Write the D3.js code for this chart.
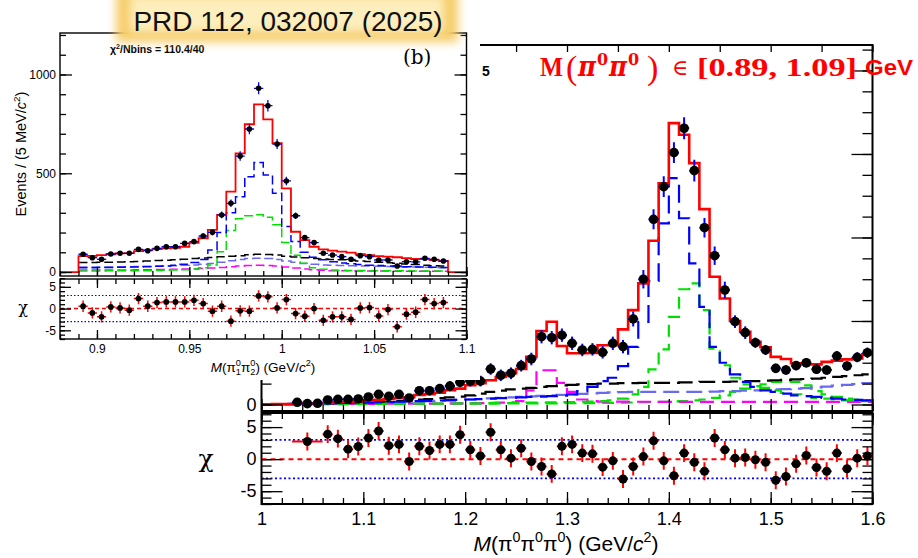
<!DOCTYPE html>
<html>
<head>
<meta charset="utf-8">
<script src="https://cdn.jsdelivr.net/npm/d3@7"></script>
<style>
  html, body { margin: 0; padding: 0; background: #fff; }
  svg { display: block; }
</style>
</head>
<body>
<svg id="chart" width="918" height="558"></svg>
<script>
// ===================== data =====================
// Main fit: M(pi0 pi0 pi0), 10 MeV bins from 1.00 to 1.60 GeV/c^2
const mainBinStart = 1.0;
const mainBinWidth = 0.01;
const mainTotal = [0.3,0.4,0.6,0.8,1.1,1.5,2.0,2.6,3.2,3.9,
  4.7,5.6,6.6,7.6,8.7,11.4,12.4,14.0,17.0,19.0,
  23.0,25.5,29.0,33.0,37.5,42.5,57,88,99,70,
  61.3,61.3,61.7,71,71,90,113,145,196,265,
  337,323,289,234,153,127,100,87,75,68.5,
  57,54.5,49.3,48,48,51,52.5,54,55,60];
const mainBlue = [0.5,0.6,0.7,0.8,1.0,1.2,1.4,1.6,1.8,2.0,
  2.3,2.6,3.0,3.3,3.7,4.0,4.4,4.8,5.2,5.6,
  6.0,6.5,7.0,7.5,8.0,8.5,9.0,9.5,10,10.5,
  12,16,21,28,32,46,69,99,148,217,
  271,223,169,117,69,50,36,27,21,17,
  15,13,11,10,9,8,7,6,5.5,5];
const mainGreen = [0.2,0.2,0.3,0.3,0.4,0.4,0.5,0.5,0.6,0.6,
  0.7,0.7,0.8,0.8,0.9,1.0,1.0,1.1,1.2,1.3,
  1.4,1.5,1.6,1.7,1.8,2.0,2.2,2.4,2.6,2.8,
  3.0,3.3,3.6,4.0,5.0,7.0,12,21,42,66,
  105,138,145,113,67,47,32,24,21,20,
  17,14,12,10,8,7,6,5,4,4];
const mainGreen2 = [0.2,0.2,0.2,0.3,0.3,0.3,0.4,0.4,0.4,0.5,
  0.5,0.6,0.6,0.7,0.7,0.8,0.8,0.9,0.9,1.0,
  1.0,1.1,1.1,1.2,1.2,1.3,1.3,1.4,1.4,1.5,
  1.5,1.6,1.7,1.8,2.0,2.2,2.4,2.7,3.0,3.3,
  3.7,4.2,5,6,8,11,15,19,22,24,
  27,28,27,23,16,12,9,7,6,5];
const mainBlack = [0.3,0.4,0.5,0.6,0.8,1.0,1.2,1.5,1.8,2.1,
  2.5,3.0,3.6,4.2,5.0,5.8,6.6,7.5,8.5,9.5,
  11,13,15,16.5,18,19,20,21,22,23,
  23.5,24,24.5,25,25,25.5,25.5,26,26,26,
  26,26.5,26.5,27,27,27,27.5,28,28,28.5,
  29,29.5,30,30.5,31,32,33,34,35,36];
const mainPurple = [0.3,0.4,0.5,0.6,0.7,0.8,1.0,1.2,1.4,1.6,
  1.9,2.2,2.5,2.9,3.3,3.7,4.1,4.5,5.0,5.5,
  6.0,6.6,7.2,7.8,8.4,9.0,9.7,10.4,11.0,11.6,
  12.2,12.8,13.4,14,14.5,14.8,15,15,15,15,
  15,15,15,15,15.5,16,16,16.5,17,17.5,
  18,18.5,19,19.5,20.5,21.5,22.5,23.5,24.5,25.5];
const mainMagenta = [0.3,0.3,0.4,0.4,0.5,0.5,0.6,0.6,0.7,0.7,
  0.8,0.8,0.9,0.9,1.0,1.0,1.1,1.2,1.3,1.4,
  1.5,1.7,1.9,2.2,2.6,4.0,17,41,41,26,
  15,6,4,3.5,3.4,3.4,3.3,3.3,3.3,3.2,
  3.2,3.2,3.2,3.2,3.2,3.2,3.2,3.2,3.2,3.2,
  3.2,3.2,3.2,3.2,3.2,3.2,3.2,3.2,3.2,3.2];

// measured points (bin centres 1.035 ... 1.595)
const mainDataX = d3.range(57).map(i => +(1.035 + i * 0.01).toFixed(3));
const mainDataY = [2.6,1.0,1.4,5.4,6.2,6.2,6.6,
  9.0,12.2,9.8,12.2,7.8,16.5,16.5,19.0,22.0,26.6,
  28.0,28.0,42.5,35.0,37.4,46.5,54.5,81.2,80.0,83.0,
  73.3,65.3,66.0,62.5,73.3,69.3,102.4,150,221.8,260.8,
  301.6,330.8,280,211.7,178.2,137.1,99.2,86,74,65.3,
  43.3,41.3,46.5,50,42.2,41.3,58,46.1,56.5,62];
const mainDataErr = [3.5,3,3,4,4,4,4,
  4.5,5,4.5,5,4.5,5.5,5.5,5.5,6,6,
  6.5,6.5,7,7,7,7,7.5,8,8,8,
  8,7.5,7.5,7.5,8,8,9,11,12,12.4,
  12.3,13.2,13,11.6,11,10,7.6,7.6,6.2,6,
  5.6,5.6,5.6,5.8,5.6,5.6,6,5.8,6,6.2];

// pulls (first point merges 1.03-1.06)
const mainPullX = [1.045].concat(d3.range(54).map(i => +(1.065 + i * 0.01).toFixed(3)));
const mainPullHalfWidth = [0.015].concat(d3.range(54).map(() => 0.005));
const mainPullY = [2.75,3.9,3.2,1.56,1.97,
  3.3,4.4,2.1,2.3,-0.37,2.0,1.35,2.3,2.3,3.8,
  1.45,0.5,4.2,1.45,0.15,1.7,-0.37,-1.15,-2.3,2.0,
  2.3,0.94,0.83,-1.25,-0.27,-3.1,-1.15,0.4,2.86,-0.27,
  -2.6,0.94,-0.5,-1.9,3.3,1.45,0.15,0.25,-0.1,-0.5,
  -3.3,-2.7,-0.73,0.56,-1.3,-1.9,0.94,-1.5,0.15,0.5];
const mainPullErr = 1.4;

const mainXTicks = [1.0,1.1,1.2,1.3,1.4,1.5,1.6];
const mainXTickLabels = ['1','1.1','1.2','1.3','1.4','1.5','1.6'];
const mainYTicks = [0];
const mainYTickLabels = ['0'];
const pullTicks = [-5,0,5];
const pullTickLabels = ['-5','0','5'];

// Inset (b): M(pi0_1 pi0_2), 5 MeV bins from 0.89 to 1.09 GeV/c^2
const insetBinStart = 0.89;
const insetBinWidth = 0.005;
const insetTotal = [81,82,86,90,95,96,106,111,116,120,
  123,128,148,171,213,289,407,601,748,849,
  773,652,424,204,162,128,115,108,103,98,
  91,86,81,78,75,70,66,65,61,56];
const insetBlue = [22,22,23,23,24,25,26,27,29,31,
  34,40,48,64,112,200,300,381,483,554,
  491,399,230,154,100,75,62,52,46,42,
  38,35,33,31,29,27,26,25,24,23];
const insetGreen = [5,5,5,6,6,6,7,7,8,9,
  10,12,15,22,36,103,210,270,285,290,
  278,240,150,85,45,22,14,10,9,8,
  8,7,7,6,6,6,5,5,5,5];
const insetBlack = [48,48,49,50,51,52,54,56,58,60,
  62,65,68,71,74,77,80,83,87,90,
  89,86,80,76,72,69,66,64,62,59,
  56,53,50,47,44,41,38,35,32,30];
const insetPurple = [25,25,26,26,27,27,28,29,30,31,
  32,34,36,39,43,50,57,63,68,70,
  68,63,56,49,43,39,36,34,33,32,
  31,30,29,28,27,26,25,24,23,22];
const insetMagenta = [10,10,10,11,11,11,12,12,13,13,
  14,15,16,18,20,23,27,30,33,34,
  33,30,26,21,16,12,9,7,6,6,
  5,5,5,5,4,4,4,4,4,4];
const insetDataX = d3.range(40).map(i => +(0.8925 + i * 0.005).toFixed(4));
const insetDataY = [90,72.7,64.6,91.4,95,95,115,108,120,128,
  128,145,154,182.5,201,289,348,587,724,930,
  842,648,461,285,174,149,95,86,78,64.6,
  83,78,61,61,30.7,52.4,52,69.6,64.6,56];
const insetDataErr = [9.5,8.5,8,9.6,9.7,9.7,10.7,10.4,11,11.3,
  11.3,12,12.4,13.5,14.2,17,18.7,24.2,26.9,30.5,
  29,25.5,21.5,16.9,13.2,12.2,9.7,9.3,8.8,8,
  9.1,8.8,7.8,7.8,5.5,7.2,7.2,8.3,8,7.5];
const insetPull = [0.53,-1.0,-1.9,0.38,0.15,-0.38,2.3,0.53,1.38,1.53,
  1.53,1.53,1.9,1.15,-0.6,0.53,-2.9,-0.53,-0.6,2.9,
  2.7,0.15,2.07,-1.15,-1.77,0,-2.7,-1.9,-1.9,-2.5,
  0.15,0.23,-1.7,-0.23,-4.2,-1.3,-0.85,2.07,1.15,1.38];
const insetPullErr = 1.3;

const insetXTicks = [0.9,0.95,1.0,1.05,1.1];
const insetXTickLabels = ['0.9','0.95','1','1.05','1.1'];
const insetYTicks = [0,500,1000];
const insetYTickLabels = ['0','500','1000'];

// ===================== drawing =====================
const SANS = '"Liberation Sans", Arial, Helvetica, sans-serif';
const SERIF = '"DejaVu Serif", "Liberation Serif", serif';
const TIMES = '"Liberation Serif", "DejaVu Serif", serif';
const svg = d3.select('#chart');
const defs = svg.append('defs');

const COL = {
  red: '#ff0000', blue: '#0000ff', green: '#00e000', black: '#000000',
  purple: '#6a6af0', magenta: '#ff00ff'
};

function stepLine(x, y, start, width, values) {
  const pts = values.map((v, i) => [start + i * width, v]);
  pts.push([start + values.length * width, values[values.length - 1]]);
  return d3.line().x(d => x(d[0])).y(d => y(d[1])).curve(d3.curveStepAfter)(pts);
}

function styleAxis(g, size) {
  g.select('.domain').remove();
  g.selectAll('line').attr('stroke', '#000').attr('stroke-width', 1.3);
  g.selectAll('text').attr('font-family', SANS).attr('font-size', size).attr('fill', '#000');
  return g;
}

function addAxis(parent, axis, tx, ty, size) {
  const g = parent.append('g').attr('transform', `translate(${tx},${ty})`).call(axis);
  return styleAxis(g, size || 10);
}

function rich(textSel, parts, size) {
  let cur = 0;
  parts.forEach(p => {
    const t = textSel.append('tspan').text(p.t);
    let target = 0, fs = size;
    if (p.sup) { target = -size * 0.42; fs = size * 0.68; }
    if (p.sub) { target = size * 0.25; fs = size * 0.68; }
    t.attr('dy', target - cur).attr('font-size', fs);
    cur = target;
    if (p.it) t.attr('font-style', 'italic');
    if (p.dx) t.attr('dx', p.dx);
    if (p.ff) t.attr('font-family', p.ff);
  });
}

// ---------- main panel ----------
const xM = d3.scaleLinear().domain([1.0, 1.6]).range([261.5, 872.5]);
const yM = d3.scaleLinear().domain([-7.8, 430.5]).range([411, 45]);
const yMP = d3.scaleLinear().domain([-7, 7.2]).range([504, 413]);

defs.append('clipPath').attr('id', 'clipMain')
  .append('rect').attr('x', 261.5).attr('y', 45).attr('width', 611).attr('height', 366);
defs.append('clipPath').attr('id', 'clipMainPull')
  .append('rect').attr('x', 261.5).attr('y', 413).attr('width', 611).attr('height', 91);

const main = svg.append('g');
const mainPlot = main.append('g').attr('clip-path', 'url(#clipMain)');

const mainComps = [
  { v: mainGreen2, c: COL.green, dash: '12,7' },
  { v: mainMagenta, c: COL.magenta, dash: '14,7' },
  { v: mainPurple, c: COL.purple, dash: '16,7' },
  { v: mainBlack, c: COL.black, dash: '16,7' },
  { v: mainGreen, c: COL.green, dash: '12,7' },
  { v: mainBlue, c: COL.blue, dash: '18,8' }
];
mainComps.forEach(cp => {
  mainPlot.append('path')
    .attr('d', stepLine(xM, yM, mainBinStart, mainBinWidth, cp.v))
    .attr('fill', 'none').attr('stroke', cp.c).attr('stroke-width', 2.2)
    .attr('stroke-dasharray', cp.dash);
});
mainPlot.append('path')
  .attr('d', stepLine(xM, yM, mainBinStart, mainBinWidth, mainTotal))
  .attr('fill', 'none').attr('stroke', COL.red).attr('stroke-width', 2.6);

// data points with error bars
const mPts = mainPlot.append('g');
mainDataX.forEach((x, i) => {
  const y = mainDataY[i], e = mainDataErr[i];
  mPts.append('line').attr('x1', xM(x)).attr('x2', xM(x)).attr('y1', yM(y - e)).attr('y2', yM(y + e))
    .attr('stroke', COL.blue).attr('stroke-width', 2);
  mPts.append('line').attr('x1', xM(x - 0.005)).attr('x2', xM(x + 0.005)).attr('y1', yM(y)).attr('y2', yM(y))
    .attr('stroke', COL.blue).attr('stroke-width', 2);
});
mPts.selectAll('circle').data(mainDataX).join('circle')
  .attr('cx', d => xM(d)).attr('cy', (d, i) => yM(mainDataY[i])).attr('r', 4.8).attr('fill', '#000');

// frames
main.append('rect').attr('x', 261.5).attr('y', 45).attr('width', 611).attr('height', 366)
  .attr('fill', 'none').attr('stroke', '#000').attr('stroke-width', 2);
main.append('rect').attr('x', 261.5).attr('y', 413).attr('width', 611).attr('height', 91)
  .attr('fill', 'none').attr('stroke', '#000').attr('stroke-width', 2);

// main upper axes
const mainXMinor = d3.range(1.0, 1.6001, 0.02);
const mainTopTicks = d3.range(1.0, 1.6001, 0.05);
addAxis(main, d3.axisBottom(xM).tickValues(mainXMinor).tickSize(-6).tickFormat(''), 0, 411);
addAxis(main, d3.axisBottom(xM).tickValues(mainXTicks).tickSize(-12).tickFormat(''), 0, 411);
addAxis(main, d3.axisTop(xM).tickValues(mainTopTicks).tickSize(-7).tickFormat(''), 0, 45);
const mainYMinor = d3.range(0, 426, 25);
const mainYMajor = d3.range(0, 426, 100);
addAxis(main, d3.axisRight(yM).tickValues(mainYMinor).tickSize(-10).tickFormat(''), 872.5, 0);
addAxis(main, d3.axisRight(yM).tickValues(mainYMajor).tickSize(-21).tickFormat(''), 872.5, 0);
addAxis(main, d3.axisLeft(yM).tickValues(mainYMinor).tickSize(-10).tickFormat(''), 261.5, 0);
addAxis(main, d3.axisLeft(yM).tickValues(mainYMajor).tickSize(-21).tickFormat(''), 261.5, 0);
addAxis(main, d3.axisLeft(yM).tickValues(mainYTicks).tickSize(0).tickPadding(5)
  .tickFormat((d, i) => mainYTickLabels[i]), 261.5, 0, 18);

// main pull panel
const mPull = main.append('g');
const mPullPlot = mPull.append('g').attr('clip-path', 'url(#clipMainPull)');
mPullPlot.append('line').attr('x1', 261.5).attr('x2', 872.5).attr('y1', yMP(0)).attr('y2', yMP(0))
  .attr('stroke', COL.red).attr('stroke-width', 2).attr('stroke-dasharray', '5,4');
[-3, 3].forEach(v => {
  mPullPlot.append('line').attr('x1', 261.5).attr('x2', 872.5).attr('y1', yMP(v)).attr('y2', yMP(v))
    .attr('stroke', COL.blue).attr('stroke-width', 1.6).attr('stroke-dasharray', '2,2.5');
});
mainPullX.forEach((x, i) => {
  const y = mainPullY[i], hw = mainPullHalfWidth[i];
  mPullPlot.append('line').attr('x1', xM(x)).attr('x2', xM(x)).attr('y1', yMP(y - mainPullErr)).attr('y2', yMP(y + mainPullErr))
    .attr('stroke', COL.red).attr('stroke-width', 2);
  mPullPlot.append('line').attr('x1', xM(x - hw)).attr('x2', xM(x + hw)).attr('y1', yMP(y)).attr('y2', yMP(y))
    .attr('stroke', COL.red).attr('stroke-width', 2);
});
mPullPlot.selectAll('circle').data(mainPullX).join('circle')
  .attr('cx', d => xM(d)).attr('cy', (d, i) => yMP(mainPullY[i])).attr('r', 4.5).attr('fill', '#000');

addAxis(mPull, d3.axisBottom(xM).tickValues(mainXMinor).tickSize(-6).tickFormat(''), 0, 504);
addAxis(mPull, d3.axisBottom(xM).tickValues(mainXTicks).tickSize(-12).tickPadding(8)
  .tickFormat((d, i) => mainXTickLabels[i]), 0, 504, 18);
addAxis(mPull, d3.axisTop(xM).tickValues(mainXMinor).tickSize(-6).tickFormat(''), 0, 413);
addAxis(mPull, d3.axisTop(xM).tickValues(mainXTicks).tickSize(-12).tickFormat(''), 0, 413);
const pullMinor = d3.range(-7, 7.01, 1);
addAxis(mPull, d3.axisLeft(yMP).tickValues(pullMinor).tickSize(-10).tickFormat(''), 261.5, 0);
addAxis(mPull, d3.axisLeft(yMP).tickValues(pullTicks).tickSize(-21).tickPadding(5)
  .tickFormat((d, i) => pullTickLabels[i]), 261.5, 0, 18);
addAxis(mPull, d3.axisRight(yMP).tickValues(pullMinor).tickSize(-10).tickFormat(''), 872.5, 0);
addAxis(mPull, d3.axisRight(yMP).tickValues(pullTicks).tickSize(-21).tickFormat(''), 872.5, 0);

// main axis titles
main.append('text').attr('x', 206).attr('y', 467).attr('text-anchor', 'middle')
  .attr('font-family', SERIF).attr('font-size', 25).text('χ');
const mTitle = main.append('text').attr('x', 566).attr('y', 551).attr('text-anchor', 'middle')
  .attr('font-family', SANS).attr('font-size', 21);
rich(mTitle, [
  { t: 'M', it: true }, { t: '(π' }, { t: '0', sup: true }, { t: 'π' }, { t: '0', sup: true },
  { t: 'π' }, { t: '0', sup: true }, { t: ') (GeV/' }, { t: 'c', it: true }, { t: '2', sup: true }, { t: ')' }
], 21);
// label fragment of the main pad
main.append('text').attr('x', 482).attr('y', 76).attr('font-family', SANS)
  .attr('font-weight', 'bold').attr('font-size', 14).text('5');

// ---------- inset (b) ----------
const inset = svg.append('g');
inset.append('rect').attr('x', 0).attr('y', 0).attr('width', 480).attr('height', 380).attr('fill', '#fff');

const xI = d3.scaleLinear().domain([0.88, 1.1]).range([60, 466.5]);
const yI = d3.scaleLinear().domain([-20, 1210]).range([276, 33]);
const yIP = d3.scaleLinear().domain([-7, 6.8]).range([339, 279]);

defs.append('clipPath').attr('id', 'clipInset')
  .append('rect').attr('x', 60).attr('y', 33).attr('width', 406.5).attr('height', 243);
defs.append('clipPath').attr('id', 'clipInsetPull')
  .append('rect').attr('x', 60).attr('y', 279).attr('width', 406.5).attr('height', 60);

const insetPlot = inset.append('g').attr('clip-path', 'url(#clipInset)');
const insetComps = [
  { v: insetMagenta, c: COL.magenta },
  { v: insetPurple, c: COL.purple },
  { v: insetBlack, c: COL.black },
  { v: insetGreen, c: COL.green },
  { v: insetBlue, c: COL.blue }
];
insetComps.forEach(cp => {
  insetPlot.append('path')
    .attr('d', stepLine(xI, yI, insetBinStart, insetBinWidth, cp.v))
    .attr('fill', 'none').attr('stroke', cp.c).attr('stroke-width', 1.5)
    .attr('stroke-dasharray', '9,4');
});
// total fit with empty bins outside the fit window
const insetTotalPadded = [0, 0].concat(insetTotal, [0, 0]);
insetPlot.append('path')
  .attr('d', stepLine(xI, yI, insetBinStart - 2 * insetBinWidth, insetBinWidth, insetTotalPadded))
  .attr('fill', 'none').attr('stroke', COL.red).attr('stroke-width', 1.8);

const iPts = insetPlot.append('g');
insetDataX.forEach((x, i) => {
  const y = insetDataY[i], e = insetDataErr[i];
  iPts.append('line').attr('x1', xI(x)).attr('x2', xI(x)).attr('y1', yI(y - e)).attr('y2', yI(y + e))
    .attr('stroke', COL.blue).attr('stroke-width', 1.3);
  iPts.append('line').attr('x1', xI(x - 0.0025)).attr('x2', xI(x + 0.0025)).attr('y1', yI(y)).attr('y2', yI(y))
    .attr('stroke', COL.blue).attr('stroke-width', 1.3);
});
iPts.selectAll('circle').data(insetDataX).join('circle')
  .attr('cx', d => xI(d)).attr('cy', (d, i) => yI(insetDataY[i])).attr('r', 2.8).attr('fill', '#000');

inset.append('rect').attr('x', 60).attr('y', 33).attr('width', 406.5).attr('height', 243)
  .attr('fill', 'none').attr('stroke', '#000').attr('stroke-width', 1.4);
inset.append('rect').attr('x', 60).attr('y', 279).attr('width', 406.5).attr('height', 60)
  .attr('fill', 'none').attr('stroke', '#000').attr('stroke-width', 1.4);

const insetXMinor = d3.range(0.88, 1.1001, 0.01);
addAxis(inset, d3.axisBottom(xI).tickValues(insetXMinor).tickSize(-5).tickFormat(''), 0, 276);
addAxis(inset, d3.axisBottom(xI).tickValues(insetXTicks).tickSize(-9).tickFormat(''), 0, 276);
addAxis(inset, d3.axisTop(xI).tickValues(insetXMinor).tickSize(-5).tickFormat(''), 0, 279);
addAxis(inset, d3.axisTop(xI).tickValues(insetXTicks).tickSize(-9).tickFormat(''), 0, 279);
addAxis(inset, d3.axisBottom(xI).tickValues(insetXMinor).tickSize(-5).tickFormat(''), 0, 339);
addAxis(inset, d3.axisBottom(xI).tickValues(insetXTicks).tickSize(-9).tickPadding(5)
  .tickFormat((d, i) => insetXTickLabels[i]), 0, 339, 12);
const insetYMinor = d3.range(0, 1201, 100);
addAxis(inset, d3.axisLeft(yI).tickValues(insetYMinor).tickSize(-6).tickFormat(''), 60, 0);
addAxis(inset, d3.axisLeft(yI).tickValues(insetYTicks).tickSize(-12).tickPadding(4)
  .tickFormat((d, i) => insetYTickLabels[i]), 60, 0, 12);
addAxis(inset, d3.axisRight(yI).tickValues(insetYMinor).tickSize(-6).tickFormat(''), 466.5, 0);
addAxis(inset, d3.axisRight(yI).tickValues(insetYTicks).tickSize(-12).tickFormat(''), 466.5, 0);

// inset pulls
const iPull = inset.append('g');
const iPullPlot = iPull.append('g').attr('clip-path', 'url(#clipInsetPull)');
iPullPlot.append('line').attr('x1', 60).attr('x2', 466.5).attr('y1', yIP(0)).attr('y2', yIP(0))
  .attr('stroke', COL.red).attr('stroke-width', 1.5).attr('stroke-dasharray', '4,3');
[-3, 3].forEach(v => {
  iPullPlot.append('line').attr('x1', 60).attr('x2', 466.5).attr('y1', yIP(v)).attr('y2', yIP(v))
    .attr('stroke', COL.blue).attr('stroke-width', 1.1).attr('stroke-dasharray', '1.5,2');
});
insetDataX.forEach((x, i) => {
  const y = insetPull[i];
  iPullPlot.append('line').attr('x1', xI(x)).attr('x2', xI(x)).attr('y1', yIP(y - insetPullErr)).attr('y2', yIP(y + insetPullErr))
    .attr('stroke', COL.red).attr('stroke-width', 1.5);
  iPullPlot.append('line').attr('x1', xI(x - 0.0025)).attr('x2', xI(x + 0.0025)).attr('y1', yIP(y)).attr('y2', yIP(y))
    .attr('stroke', COL.red).attr('stroke-width', 1.5);
});
iPullPlot.selectAll('circle').data(insetDataX).join('circle')
  .attr('cx', d => xI(d)).attr('cy', (d, i) => yIP(insetPull[i])).attr('r', 2.9).attr('fill', '#000');
addAxis(iPull, d3.axisLeft(yIP).tickValues(pullMinor).tickSize(-5).tickFormat(''), 60, 0);
addAxis(iPull, d3.axisLeft(yIP).tickValues(pullTicks).tickSize(-11).tickPadding(4)
  .tickFormat((d, i) => pullTickLabels[i]), 60, 0, 12);
addAxis(iPull, d3.axisRight(yIP).tickValues(pullMinor).tickSize(-5).tickFormat(''), 466.5, 0);
addAxis(iPull, d3.axisRight(yIP).tickValues(pullTicks).tickSize(-11).tickFormat(''), 466.5, 0);

// inset titles and labels
const iy = inset.append('text').attr('transform', 'translate(26,154) rotate(-90)')
  .attr('text-anchor', 'middle').attr('font-family', SANS).attr('font-size', 14.5);
rich(iy, [{ t: 'Events / (5 MeV/' }, { t: 'c', it: true }, { t: '2', sup: true }, { t: ')' }], 14.5);
inset.append('text').attr('x', 23).attr('y', 313).attr('text-anchor', 'middle')
  .attr('font-family', SERIF).attr('font-size', 16).text('χ');
const ix = inset.append('text').attr('x', 263).attr('y', 372).attr('text-anchor', 'middle')
  .attr('font-family', SANS).attr('font-size', 13.5);
rich(ix, [
  { t: 'M', it: true }, { t: '(π' }, { t: '0', sup: true }, { t: '1', sub: true, dx: -5.1 },
  { t: 'π' }, { t: '0', sup: true }, { t: '2', sub: true, dx: -5.1 },
  { t: ') (GeV/' }, { t: 'c', it: true }, { t: '2', sup: true }, { t: ')' }
], 13.5);
const chi = inset.append('text').attr('x', 110).attr('y', 53).attr('font-family', SANS)
  .attr('font-weight', 'bold').attr('font-size', 10.5);
rich(chi, [{ t: 'χ' }, { t: '2', sup: true }, { t: '/Nbins = 110.4/40' }], 10.5);
inset.append('text').attr('x', 403).attr('y', 64).attr('font-family', SERIF)
  .attr('font-size', 20).text('(b)');

// ---------- journal reference badge ----------
defs.append('filter').attr('id', 'soft').attr('x', '-20%').attr('y', '-50%').attr('width', '140%').attr('height', '200%')
  .append('feGaussianBlur').attr('stdDeviation', 5);
svg.append('rect').attr('x', 116).attr('y', -12).attr('width', 342).attr('height', 54)
  .attr('fill', '#f6cc68').attr('filter', 'url(#soft)');
svg.append('rect').attr('x', 130).attr('y', -4).attr('width', 314).attr('height', 36)
  .attr('fill', '#fdeebd').attr('filter', 'url(#soft)');
svg.append('text').attr('x', 288).attr('y', 31).attr('text-anchor', 'middle')
  .attr('font-family', SANS).attr('font-size', 28).attr('fill', '#111').text('PRD 112, 032007 (2025)');

// ---------- mass window annotation ----------
const ann = svg.append('g').attr('fill', '#ff0000');
const annText = (x, y, s, opt) => {
  const t = ann.append('text').attr('x', x).attr('y', y).text(s)
    .attr('font-family', opt.ff || TIMES).attr('font-size', opt.fs)
    .attr('font-weight', opt.fw || 'bold');
  if (opt.it) t.attr('font-style', 'italic');
  if (opt.len) t.attr('textLength', opt.len).attr('lengthAdjust', 'spacingAndGlyphs');
  return t;
};
annText(540, 76, 'M', { fs: 27, len: 23 });
annText(566, 79, '(', { fs: 34, fw: 'normal' });
annText(578, 76, 'π', { fs: 27, it: true, ff: SERIF, len: 18 });
annText(597, 65, '0', { fs: 16, ff: SERIF });
annText(609, 76, 'π', { fs: 27, it: true, ff: SERIF, len: 18 });
annText(628, 65, '0', { fs: 16, ff: SERIF });
annText(647, 79, ')', { fs: 34, fw: 'normal' });
annText(672, 75, '∈', { fs: 22, fw: 'normal', ff: SERIF });
annText(697, 76, '[0.89, 1.09]', { fs: 26, len: 160 });
annText(865, 75, 'GeV', { fs: 22, ff: SANS, len: 48 });
</script>
</body>
</html>
